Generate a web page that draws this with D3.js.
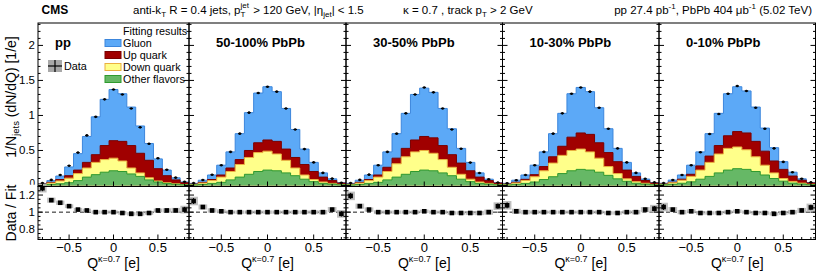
<!DOCTYPE html>
<html><head><meta charset="utf-8">
<script src="https://cdn.jsdelivr.net/npm/d3@7"></script>
<style>body{margin:0;background:#fff}svg{display:block;font-family:"Liberation Sans",Arial,Helvetica,sans-serif}</style>
</head><body><svg id="c" width="830" height="274"></svg>
<script>
// ---------------- data ----------------
const panelLabels = ["pp", "50-100% PbPb", "30-50% PbPb", "10-30% PbPb", "0-10% PbPb"];
const qCenters = [-0.8,-0.7,-0.6,-0.5,-0.4,-0.3,-0.2,-0.1,0,0.1,0.2,0.3,0.4,0.5,0.6,0.7,0.8];
const binWidth = 0.1;
const xTickVals = [-0.5, 0, 0.5];
const xTickLabels = ["\u22120.5", "0", "0.5"];
const yTickVals = [0, 0.5, 1, 1.5, 2];
const yTickLabels = ["0", "0.5", "1", "1.5", "2"];
const ratioTickVals = [0.8, 1, 1.2];
const ratioTickLabels = ["0.8", "1", "1.2"];
const flavorKeys = ["other", "down", "up", "gluon"];
const legendNames = ["Gluon", "Up quark", "Down quark", "Other flavors"];

// fitted flavour contributions per panel (stacked: other, down, up, gluon)
const otherFlavors = [
  [0.008,0.015,0.025,0.04,0.07,0.12,0.155,0.19,0.21,0.20,0.165,0.13,0.08,0.05,0.03,0.018,0.01],
  [0.008,0.015,0.03,0.045,0.08,0.12,0.16,0.20,0.22,0.21,0.18,0.14,0.09,0.055,0.03,0.02,0.01],
  [0.008,0.015,0.03,0.045,0.08,0.12,0.16,0.20,0.22,0.21,0.18,0.14,0.09,0.055,0.03,0.02,0.01],
  [0.008,0.016,0.03,0.05,0.085,0.125,0.17,0.21,0.23,0.22,0.19,0.145,0.095,0.06,0.032,0.02,0.01],
  [0.009,0.017,0.032,0.052,0.09,0.13,0.18,0.22,0.24,0.23,0.20,0.15,0.10,0.062,0.034,0.021,0.011]
];
const downQuark = [
  [0.008,0.02,0.04,0.065,0.10,0.13,0.175,0.18,0.18,0.15,0.085,0.05,0.03,0.015,0.01,0.007,0.003],
  [0.007,0.02,0.04,0.075,0.12,0.18,0.24,0.27,0.27,0.24,0.18,0.11,0.06,0.03,0.02,0.01,0.005],
  [0.007,0.02,0.04,0.075,0.12,0.19,0.25,0.28,0.28,0.25,0.19,0.12,0.07,0.035,0.02,0.01,0.005],
  [0.008,0.02,0.042,0.075,0.125,0.195,0.26,0.29,0.29,0.26,0.20,0.125,0.075,0.035,0.023,0.012,0.006],
  [0.008,0.021,0.043,0.078,0.13,0.20,0.27,0.31,0.31,0.28,0.21,0.14,0.08,0.038,0.024,0.013,0.006]
];
const upQuark = [
  [0.004,0.01,0.02,0.035,0.05,0.08,0.11,0.20,0.25,0.28,0.32,0.28,0.25,0.175,0.10,0.055,0.027],
  [0.005,0.01,0.015,0.03,0.05,0.07,0.10,0.14,0.16,0.18,0.16,0.15,0.15,0.115,0.07,0.04,0.02],
  [0.005,0.01,0.015,0.03,0.06,0.08,0.12,0.17,0.20,0.22,0.20,0.18,0.16,0.12,0.07,0.04,0.02],
  [0.005,0.01,0.016,0.03,0.06,0.09,0.13,0.19,0.23,0.25,0.22,0.20,0.17,0.125,0.075,0.04,0.02],
  [0.005,0.009,0.015,0.03,0.06,0.09,0.12,0.18,0.22,0.24,0.22,0.20,0.17,0.13,0.077,0.041,0.02]
];
const gluon = [
  [0.007,0.025,0.05,0.125,0.235,0.37,0.54,0.66,0.73,0.68,0.55,0.39,0.24,0.14,0.08,0.03,0.01],
  [0.01,0.03,0.065,0.14,0.23,0.37,0.54,0.71,0.76,0.71,0.58,0.40,0.22,0.13,0.06,0.025,0.005],
  [0.01,0.03,0.065,0.14,0.22,0.35,0.50,0.65,0.69,0.65,0.53,0.37,0.21,0.12,0.06,0.02,0.005],
  [0.01,0.03,0.062,0.135,0.21,0.33,0.47,0.62,0.65,0.61,0.50,0.34,0.19,0.11,0.05,0.02,0.006],
  [0.01,0.03,0.06,0.13,0.20,0.32,0.46,0.60,0.64,0.60,0.49,0.33,0.19,0.11,0.055,0.02,0.006]
];
// measured data
const dataValues = [
  [0.035,0.08,0.15,0.283,0.47,0.715,0.98,1.23,1.37,1.30,1.10,0.83,0.595,0.39,0.225,0.112,0.052],
  [0.034,0.079,0.153,0.29,0.48,0.74,1.04,1.32,1.41,1.34,1.10,0.80,0.52,0.33,0.18,0.098,0.039],
  [0.036,0.08,0.155,0.29,0.48,0.74,1.03,1.30,1.40,1.33,1.10,0.80,0.525,0.327,0.178,0.09,0.043],
  [0.033,0.076,0.15,0.29,0.48,0.74,1.03,1.31,1.40,1.34,1.11,0.81,0.53,0.33,0.18,0.095,0.044],
  [0.034,0.079,0.15,0.29,0.475,0.735,1.02,1.31,1.42,1.35,1.11,0.81,0.53,0.337,0.19,0.097,0.045]
];
const ratioValues = [
  [1.28,1.14,1.11,1.07,1.03,1.02,1.00,1.00,1.00,0.99,0.98,0.98,0.99,1.02,1.02,1.02,1.03],
  [1.13,1.06,1.02,1.01,1.00,1.00,1.00,1.00,1.00,1.00,1.00,1.00,1.00,1.00,1.00,1.03,0.98],
  [1.19,1.07,1.03,1.00,1.00,1.00,1.00,1.00,1.01,1.00,1.00,0.99,0.99,0.99,0.99,1.00,1.07],
  [1.08,1.01,1.00,1.00,1.00,1.00,1.00,1.00,1.00,1.00,1.00,0.99,0.99,1.00,1.00,1.03,1.04],
  [1.06,1.03,1.00,1.01,0.99,0.99,0.99,1.00,1.01,1.00,0.99,0.99,0.98,0.99,1.00,1.02,1.055]
];
const ratioSyst = [0.05,0.03,0.025,0.022,0.02,0.02,0.02,0.02,0.02,0.02,0.02,0.02,0.02,0.022,0.025,0.03,0.045];

// ---------------- layout ----------------
const edges = [38, 189, 346, 502.5, 659, 815.5];
const mainTop = 23, mainBot = 186.5, ratTop = 186.5, ratBot = 239.5;
const fillCol = {other:"#66b866", down:"#ffff8a", up:"#a00000", gluon:"#5ca9f7"};
const lineCol = {other:"#2f9a2f", down:"#eab040", up:"#7a0000", gluon:"#3c86dc"};

const svg = d3.select("#c");
svg.append("rect").attr("width",830).attr("height",274).attr("fill","#fff");
const defs = svg.append("defs");

const yMain = d3.scaleLinear().domain([0, 2.32]).range([185.5, mainTop]);
const yRat = d3.scaleLinear().domain([0.68, 1.3]).range([ratBot, ratTop]);

function rich(g, x, y, parts, anchor) {
  const t = g.append("g");
  let cx = 0;
  parts.forEach(p => {
    if (p.stack) {
      const a = t.append("text").attr("x", cx).attr("y", y + p.supDy).attr("font-size", p.fs).text(p.stack[0]);
      const b = t.append("text").attr("x", cx).attr("y", y + p.subDy).attr("font-size", p.fs).text(p.stack[1]);
      cx += Math.max(a.node().getComputedTextLength(), b.node().getComputedTextLength()) + 1;
    } else {
      const e = t.append("text").attr("x", cx).attr("y", y + (p.dy || 0)).attr("font-size", p.fs)
        .attr("font-weight", p.bold ? "bold" : null).style("white-space","pre").text(p.t);
      cx += e.node().getComputedTextLength();
    }
  });
  let shift = x;
  if (anchor === "middle") shift = x - cx / 2;
  if (anchor === "end") shift = x - cx;
  t.attr("transform", `translate(${shift},0)`);
  return t;
}

// header
svg.append("text").attr("x", 41.5).attr("y", 13.5).attr("font-size", 12).attr("font-weight", "bold").text("CMS");
rich(svg, 133, 13.5, [
  {t:"anti-k", fs:11.5}, {t:"T", fs:8, dy:3}, {t:" R = 0.4 jets, p", fs:11.5},
  {stack:["jet","T"], fs:8, supDy:-6, subDy:3}, {t:" > 120 GeV, |\u03B7", fs:11.5}, {t:"jet", fs:8, dy:3}, {t:"| < 1.5", fs:11.5}
]);
rich(svg, 403, 13.5, [
  {t:"\u03BA = 0.7 , track p", fs:11.5}, {t:"T", fs:8, dy:3}, {t:" > 2 GeV", fs:11.5}
]);
rich(svg, 812, 13.5, [
  {t:"pp 27.4 pb", fs:11.5}, {t:"-1", fs:8, dy:-5}, {t:", PbPb 404 \u03BCb", fs:11.5}, {t:"-1", fs:8, dy:-5}, {t:" (5.02 TeV)", fs:11.5}
], "end");

// y titles
const yt = svg.append("g").attr("transform", "translate(16,97) rotate(-90)");
rich(yt, 0, 0, [{t:"1/N", fs:14}, {t:"jets", fs:9.5, dy:3}, {t:" (dN/dQ) [1/e]", fs:14}], "middle");
svg.append("text").attr("transform", "translate(16,213) rotate(-90)").attr("text-anchor","middle").attr("font-size",14).text("Data / Fit");

// main y tick labels (pp only)
yTickVals.forEach((v, i) => {
  if (v === 0) return;
  svg.append("text").attr("x", 35).attr("y", yMain(v) + 4).attr("text-anchor","end").attr("font-size", 11.5).text(yTickLabels[i]);
});
// the "0" label is partly hidden by the ratio pad, as in the original
defs.append("clipPath").attr("id","zeroclip").append("rect").attr("x",0).attr("y",170).attr("width",38).attr("height",14.8);
svg.append("text").attr("x", 35).attr("y", 186.5).attr("text-anchor","end").attr("font-size", 10)
  .attr("clip-path","url(#zeroclip)").text(yTickLabels[0]);
ratioTickVals.forEach((v, i) => {
  svg.append("text").attr("x", 35).attr("y", yRat(v) + 4).attr("text-anchor","end").attr("font-size", 11.5).text(ratioTickLabels[i]);
});

panelLabels.forEach((label, p) => {
  const x0 = edges[p], x1 = edges[p + 1];
  const x = d3.scaleLinear().domain([-0.85, 0.85]).range([x0, x1]);
  const g = svg.append("g");
  const cid = "clip" + p;
  defs.append("clipPath").attr("id", cid).append("rect")
    .attr("x", x0).attr("y", mainTop).attr("width", x1 - x0).attr("height", mainBot - mainTop);

  // stacked fit
  const rows = qCenters.map((q, i) => ({q, other: otherFlavors[p][i], down: downQuark[p][i], up: upQuark[p][i], gluon: gluon[p][i]}));
  const layers = d3.stack().keys(flavorKeys)(rows);
  const hg = g.append("g").attr("clip-path", `url(#${cid})`);
  const area = d3.area().x(d => x(d.q)).y0(yMain(0)).y1(d => yMain(d.v));
  const line = d3.line().x(d => x(d.q)).y(d => yMain(d.v));
  layers.slice().reverse().forEach(layer => {
    const pts = [];
    layer.forEach((d, i) => {
      pts.push({q: qCenters[i] - binWidth / 2, v: d[1]});
      pts.push({q: qCenters[i] + binWidth / 2, v: d[1]});
    });
    hg.append("path").attr("d", area(pts)).attr("fill", fillCol[layer.key]);
    const lp = [{q: -0.85, v: 0}].concat(pts, [{q: 0.85, v: 0}]);
    hg.append("path").attr("d", line(lp)).attr("fill", "none").attr("stroke", lineCol[layer.key]).attr("stroke-width", 1);
  });

  // data points
  dataValues[p].forEach((v, i) => {
    const cx = x(qCenters[i]), cy = yMain(v);
    hg.append("line").attr("x1", cx - 1.8).attr("x2", cx + 1.8).attr("y1", cy).attr("y2", cy).attr("stroke", "#000").attr("stroke-width", 1);
    hg.append("circle").attr("cx", cx).attr("cy", cy).attr("r", 1.3).attr("fill", "#000");
  });

  // ratio
  const rg = g.append("g");
  rg.append("line").attr("x1", x0).attr("x2", x1).attr("y1", yRat(1)).attr("y2", yRat(1))
    .attr("stroke", "#000").attr("stroke-width", 0.9).attr("stroke-dasharray", "4,3");
  const bw = x(binWidth) - x(0);
  ratioValues[p].forEach((v, i) => {
    const cx = x(qCenters[i]);
    rg.append("rect").attr("x", cx - bw * 0.47).attr("width", bw * 0.94)
      .attr("y", yRat(v + ratioSyst[i])).attr("height", yRat(v - ratioSyst[i]) - yRat(v + ratioSyst[i]))
      .attr("fill", "#b4b4b4").attr("opacity", 0.85);
  });
  ratioValues[p].forEach((v, i) => {
    const cx = x(qCenters[i]), cy = yRat(v);
    rg.append("line").attr("x1", cx).attr("x2", cx).attr("y1", yRat(v + ratioSyst[i] * 0.7)).attr("y2", yRat(v - ratioSyst[i] * 0.7)).attr("stroke", "#000");
    rg.append("rect").attr("x", cx - 2.3).attr("y", cy - 2.3).attr("width", 4.6).attr("height", 4.6).attr("fill", "#000");
  });

  // frames
  g.append("rect").attr("x", x0).attr("y", mainTop).attr("width", x1 - x0).attr("height", mainBot - mainTop)
    .attr("fill", "none").attr("stroke", "#000").attr("stroke-width", 1);
  g.append("rect").attr("x", x0).attr("y", ratTop).attr("width", x1 - x0).attr("height", ratBot - ratTop)
    .attr("fill", "none").attr("stroke", "#000").attr("stroke-width", 1);

  // ticks
  const tk = g.append("g").attr("stroke", "#000").attr("stroke-width", 1);
  d3.range(0, 2.31, 0.1).forEach(v => {
    const major = Math.abs(v / 0.5 - Math.round(v / 0.5)) < 1e-6;
    const L = major ? 5 : 2.5, yy = yMain(v);
    tk.append("line").attr("x1", x0).attr("x2", x0 + L).attr("y1", yy).attr("y2", yy);
    tk.append("line").attr("x1", x1).attr("x2", x1 - L).attr("y1", yy).attr("y2", yy);
  });
  d3.range(0.7, 1.301, 0.05).forEach(v => {
    const major = Math.abs(v / 0.2 - Math.round(v / 0.2)) < 1e-6;
    const L = major ? 5 : 2.5, yy = yRat(v);
    tk.append("line").attr("x1", x0).attr("x2", x0 + L).attr("y1", yy).attr("y2", yy);
    tk.append("line").attr("x1", x1).attr("x2", x1 - L).attr("y1", yy).attr("y2", yy);
  });
  qCenters.forEach(q => {
    const major = xTickVals.some(t => Math.abs(t - q) < 1e-6);
    const L = major ? 5 : 2.5, xx = x(q);
    tk.append("line").attr("x1", xx).attr("x2", xx).attr("y1", mainBot).attr("y2", mainBot - L);
    tk.append("line").attr("x1", xx).attr("x2", xx).attr("y1", ratBot).attr("y2", ratBot - L);
  });

  // x tick labels
  xTickVals.forEach((t, i) => {
    g.append("text").attr("x", x(t)).attr("y", 251.5).attr("text-anchor", "middle").attr("font-size", 13).text(xTickLabels[i]);
  });
  // x title
  rich(g, (x0 + x1) / 2, 268, [{t:"Q", fs:14}, {t:"\u03BA=0.7", fs:9, dy:-6}, {t:" [e]", fs:14}], "middle");

  // panel label
  g.append("text").attr("x", x0 + (p === 0 ? 17 : 27)).attr("y", 47).attr("font-size", 13).attr("font-weight", "bold").text(label);
});

// legend
const lg = svg.append("g");
lg.append("text").attr("x", 123).attr("y", 35).attr("font-size", 10.8).text("Fitting results");
const legKeys = ["gluon", "up", "down", "other"];
legKeys.forEach((k, i) => {
  const cy = 43 + i * 12;
  lg.append("rect").attr("x", 105).attr("y", cy - 3.5).attr("width", 16).attr("height", 7)
    .attr("fill", fillCol[k]).attr("stroke", lineCol[k]).attr("stroke-width", 1);
  lg.append("text").attr("x", 123).attr("y", cy + 3.8).attr("font-size", 10.8).text(legendNames[i]);
});
lg.append("rect").attr("x", 48).attr("y", 60).attr("width", 14).attr("height", 12).attr("fill", "#a8a8a8");
lg.append("line").attr("x1", 48).attr("x2", 62).attr("y1", 66).attr("y2", 66).attr("stroke", "#000").attr("stroke-width", 1.2);
lg.append("line").attr("x1", 55).attr("x2", 55).attr("y1", 60).attr("y2", 72).attr("stroke", "#000").attr("stroke-width", 1.2);
lg.append("text").attr("x", 64).attr("y", 70).attr("font-size", 10.8).text("Data");
</script></body></html>
